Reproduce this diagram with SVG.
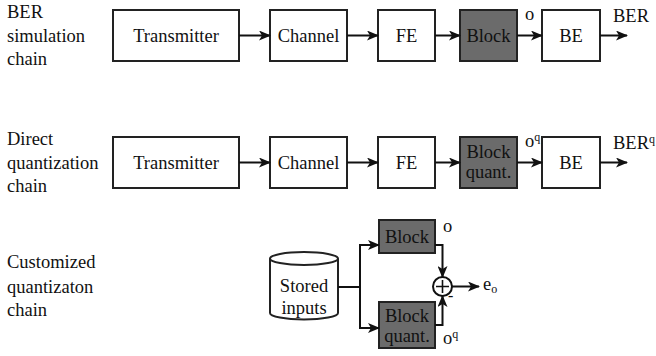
<svg xmlns="http://www.w3.org/2000/svg" width="656" height="356" viewBox="0 0 656 356">
  <style>
    text { font-family: "Liberation Serif", "Times New Roman", serif; font-size: 18.5px; fill: #111; }
    .box { fill: #fff; stroke: #222; stroke-width: 2; }
    .dark { fill: #6b6b6b; stroke: #222; stroke-width: 2; }
    .mid { text-anchor: middle; }
    .wire { fill: none; stroke: #111; stroke-width: 2; }
    .sup { font-size: 12px; }
  </style>
  <defs>
    <marker id="arr" viewBox="0 0 12 10" refX="11" refY="5" markerWidth="12" markerHeight="10" markerUnits="userSpaceOnUse" orient="auto">
      <path d="M0,0 L12,5 L0,10 L3,5 Z" fill="#111"/>
    </marker>
  </defs>

  <!-- row labels -->
  <g id="label-ber">
    <text x="7" y="18">BER</text>
    <text x="7" y="42">simulation</text>
    <text x="7" y="65">chain</text>
  </g>
  <g id="label-direct">
    <text x="7" y="145">Direct</text>
    <text x="7" y="169">quantization</text>
    <text x="7" y="192">chain</text>
  </g>
  <g id="label-custom">
    <text x="7" y="268">Customized</text>
    <text x="7" y="293">quantizaton</text>
    <text x="7" y="316">chain</text>
  </g>

  <!-- BER simulation chain -->
  <g id="tx1"><rect class="box" x="113" y="10" width="126" height="51"/><text class="mid" x="176" y="42">Transmitter</text></g>
  <g id="ch1"><rect class="box" x="270" y="10" width="77" height="51"/><text class="mid" x="308.5" y="42">Channel</text></g>
  <g id="fe1"><rect class="box" x="378" y="10" width="57" height="51"/><text class="mid" x="406.5" y="42">FE</text></g>
  <g id="blk1"><rect class="dark" x="460" y="10" width="57" height="51"/><text class="mid" x="488.5" y="42">Block</text></g>
  <g id="be1"><rect class="box" x="542" y="10" width="58" height="51"/><text class="mid" x="571" y="42">BE</text></g>

  <!-- Direct quantization chain -->
  <g id="tx2"><rect class="box" x="113" y="137" width="126" height="51"/><text class="mid" x="176" y="169">Transmitter</text></g>
  <g id="ch2"><rect class="box" x="270" y="137" width="77" height="51"/><text class="mid" x="308.5" y="169">Channel</text></g>
  <g id="fe2"><rect class="box" x="378" y="137" width="57" height="51"/><text class="mid" x="406.5" y="169">FE</text></g>
  <g id="blkq2"><rect class="dark" x="460" y="137" width="57" height="51"/><text class="mid" x="488.5" y="158">Block</text><text class="mid" x="488.5" y="178">quant.</text></g>
  <g id="be2"><rect class="box" x="542" y="137" width="58" height="51"/><text class="mid" x="571" y="169">BE</text></g>

  <!-- Customized quantization chain -->
  <g id="stored">
    <path class="box" d="M270,258.5 L270,313 A34,6.5 0 0 0 338,313 L338,258.5"/>
    <ellipse class="box" cx="304" cy="258.5" rx="34" ry="6.5"/>
    <text class="mid" x="304" y="292">Stored</text>
    <text class="mid" x="304" y="314">inputs</text>
  </g>
  <g id="blk3"><rect class="dark" x="379" y="220" width="56" height="33"/><text class="mid" x="407" y="243">Block</text></g>
  <g id="blkq3"><rect class="dark" x="379" y="302" width="56" height="46"/><text class="mid" x="407" y="322">Block</text><text class="mid" x="407" y="342">quant.</text></g>
  <g id="sum">
    <circle cx="442.5" cy="286.5" r="9.5" fill="#fff" stroke="#111" stroke-width="2"/>
    <path d="M442.5,280 V293 M436,286.5 H449" stroke="#111" stroke-width="1.6"/>
  </g>

  <!-- connectors -->
  <g id="connectors">
    <path class="wire" d="M239,35.5 H270" marker-end="url(#arr)"/>
    <path class="wire" d="M347,35.5 H378" marker-end="url(#arr)"/>
    <path class="wire" d="M435,35.5 H460" marker-end="url(#arr)"/>
    <path class="wire" d="M517,35.5 H542" marker-end="url(#arr)"/>
    <path class="wire" d="M600,35.5 H627" marker-end="url(#arr)"/>

    <path class="wire" d="M239,162.5 H270" marker-end="url(#arr)"/>
    <path class="wire" d="M347,162.5 H378" marker-end="url(#arr)"/>
    <path class="wire" d="M435,162.5 H460" marker-end="url(#arr)"/>
    <path class="wire" d="M517,162.5 H542" marker-end="url(#arr)"/>
    <path class="wire" d="M600,162.5 H627" marker-end="url(#arr)"/>

    <path class="wire" d="M338,287 H360"/>
    <path class="wire" d="M360,287 V245 H379" marker-end="url(#arr)"/>
    <path class="wire" d="M360,287 V328 H379" marker-end="url(#arr)"/>
    <path class="wire" d="M435,245 H442.5 V277" marker-end="url(#arr)"/>
    <path class="wire" d="M435,325 H442.5 V296" marker-end="url(#arr)"/>
    <path class="wire" d="M452,286.5 H479" marker-end="url(#arr)"/>
  </g>

  <!-- signal labels -->
  <g id="signal-labels">
    <text x="613" y="22">BER</text>
    <text x="525" y="20">o</text>
    <text x="613" y="149">BER<tspan class="sup" dy="-6">q</tspan></text>
    <text x="525" y="147">o<tspan class="sup" dy="-6">q</tspan></text>
    <text x="443" y="232">o</text>
    <text x="443" y="344">o<tspan class="sup" dy="-6">q</tspan></text>
    <text x="448" y="301" style="font-size:16px">-</text>
    <text x="483" y="290">e<tspan class="sup" dy="3">o</tspan></text>
  </g>
</svg>
